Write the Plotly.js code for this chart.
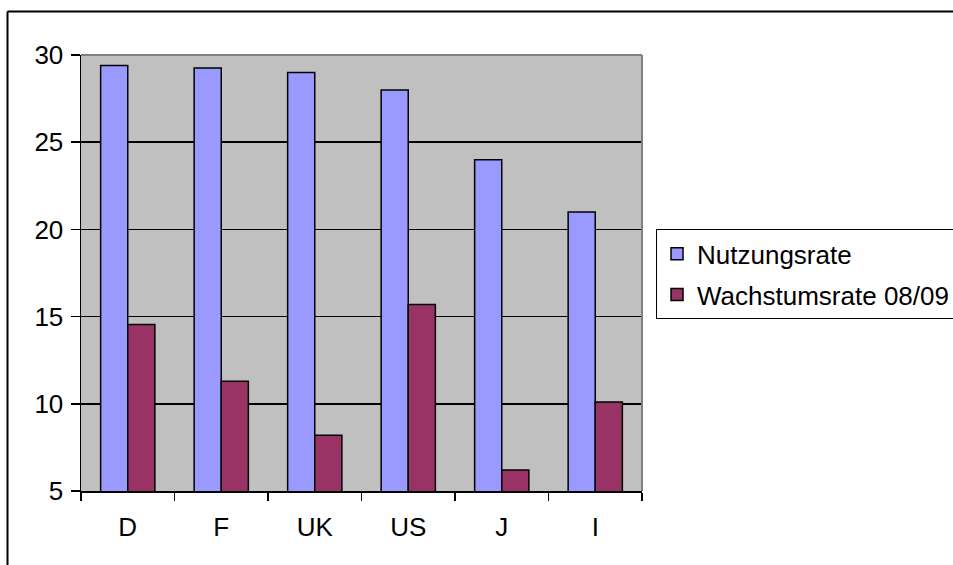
<!DOCTYPE html>
<html>
<head>
<meta charset="utf-8">
<script src="https://cdn.plot.ly/plotly-3.0.1.min.js"></script>
<style>html,body{margin:0;padding:0;background:#fff;overflow:hidden;}#chart{width:953px;height:565px;}</style>
</head>
<body>
<div id="chart"></div>
<script>
const categories = ["D", "F", "UK", "US", "J", "I"];
const nutzungsrate = [29.4, 29.25, 29.0, 28.0, 24.0, 21.0];
const wachstumsrate = [14.55, 11.3, 8.2, 15.7, 6.2, 10.1];
const seriesNames = ["Nutzungsrate", "Wachstumsrate 08/09"];
const yTicks = [5, 10, 15, 20, 25, 30];

const font = {family: "Liberation Sans, Arial, sans-serif", size: 26, color: "#000"};

const traces = [
  {type: "bar", x: categories, y: nutzungsrate, name: seriesNames[0], legendgroup: "a",
   marker: {color: "#9999FF", line: {color: "#000", width: 1.5}}},
  {type: "bar", x: categories, y: wachstumsrate, name: seriesNames[1], legendgroup: "b",
   marker: {color: "#993366", line: {color: "#000", width: 1.5}}}
];

const layout = {
  width: 953, height: 565,
  margin: {l: 81, r: 311, t: 55, b: 74, pad: 0, autoexpand: false},
  paper_bgcolor: "#fff", plot_bgcolor: "#C0C0C0",
  font: font,
  barmode: "group", bargap: 0.42, bargroupgap: 0,
  showlegend: true,
  legend: {x: 1.025, xanchor: "left", y: 0.60, yanchor: "top", bgcolor: "#fff",
           bordercolor: "#000", borderwidth: 1, font: font,
           traceorder: "grouped", tracegroupgap: 4},
  xaxis: {type: "category", range: [-0.5, 5.5], showline: true, linecolor: "#000", linewidth: 1.5,
          ticks: "outside", tickson: "boundaries", ticklen: 8, tickcolor: "#000", tickwidth: 1.5,
          showgrid: false, zeroline: false, ticklabelstandoff: 12, fixedrange: true},
  yaxis: {range: [5, 30], tickvals: yTicks, ticktext: yTicks.map(String), showline: true,
          linecolor: "#000", linewidth: 1.5, ticks: "outside", ticklen: 9, tickcolor: "#000",
          tickwidth: 1.5, showgrid: true, gridcolor: "#000", gridwidth: 1.5, zeroline: false,
          ticklabelstandoff: 2, fixedrange: true},
  shapes: [
    {type: "line", xref: "paper", yref: "paper", x0: 0, x1: 1, y0: 1, y1: 1, layer: "above",
     line: {color: "#808080", width: 2}},
    {type: "line", xref: "paper", yref: "paper", x0: 1, x1: 1, y0: 0, y1: 1, layer: "above",
     line: {color: "#808080", width: 2}},
    {type: "line", xref: "paper", yref: "paper", x0: -0.131, x1: 1.7, y0: 1.1, y1: 1.1, layer: "above",
     line: {color: "#000", width: 2}},
    {type: "line", xref: "paper", yref: "paper", x0: -0.131, x1: -0.131, y0: -0.3, y1: 1.1, layer: "above",
     line: {color: "#000", width: 2}}
  ]
};

Plotly.newPlot("chart", traces, layout, {displayModeBar: false, staticPlot: true});
</script>
</body>
</html>
